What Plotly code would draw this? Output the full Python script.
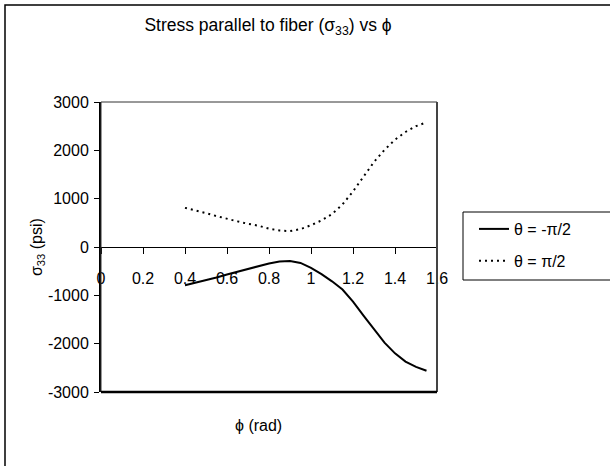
import plotly.graph_objects as go

phi = [0.40, 0.45, 0.50, 0.55, 0.60, 0.65, 0.70, 0.75, 0.80, 0.85, 0.90, 0.95,
       1.00, 1.05, 1.10, 1.15, 1.20, 1.25, 1.30, 1.35, 1.40, 1.45, 1.50, 1.55]
sigma_neg = [-790, -740, -690, -630, -570, -510, -450, -400, -340, -300, -290, -330,
             -430, -560, -710, -880, -1130, -1420, -1700, -1980, -2200, -2370, -2480, -2560]
sigma_pos = [810, 760, 700, 640, 580, 530, 480, 440, 380, 340, 330, 370,
             450, 550, 680, 880, 1150, 1450, 1760, 2010, 2220, 2380, 2500, 2580]
names = ["θ = -π/2", "θ = π/2"]
y_ticks = [-3000, -2000, -1000, 0, 1000, 2000, 3000]
y_ticklabels = ["-3000", "-2000", "-1000", "0", "1000", "2000", "3000"]
x_ticks = [0, 0.2, 0.4, 0.6, 0.8, 1.0, 1.2, 1.4, 1.6]
x_ticklabels = ["0", "0.2", "0.4", "0.6", "0.8", "1", "1.2", "1.4", "1.6"]

FONT = "Liberation Sans, Arial, sans-serif"
W, H = 610, 466
L, R, T, B = 101, 437, 102, 392

def px(x):
    return (x - L) / (R - L)

def py(y):
    return (B - y) / (B - T)

fig = go.Figure()
fig.add_trace(go.Scatter(x=phi, y=sigma_neg, mode="lines", name=names[0],
                         line=dict(color="black", width=2), legendgroup="a"))
fig.add_trace(go.Scatter(x=phi, y=sigma_pos, mode="lines", name=names[1],
                         line=dict(color="black", width=2, dash="2px,4px"), legendgroup="b"))

fig.update_layout(
    width=W, height=H,
    margin=dict(l=L, r=W - R, t=T, b=H - B),
    paper_bgcolor="white", plot_bgcolor="white",
    font=dict(family=FONT, size=16, color="black"),
    showlegend=True,
    legend=dict(x=px(474), y=py(212), xanchor="left", yanchor="top",
                bgcolor="rgba(0,0,0,0)", borderwidth=0,
                font=dict(size=16), tracegroupgap=8),
    title=dict(text="Stress parallel to fiber (σ<sub>33</sub>) vs ϕ",
               x=268 / W, y=1 - 25 / H, xref="container", yref="container",
               xanchor="center", yanchor="middle", font=dict(size=17.5)),
    xaxis=dict(range=[0, 1.6], tickvals=x_ticks, ticktext=x_ticklabels,
               showgrid=False, zeroline=False,
               showline=True, linecolor="black", linewidth=1,
               ticks="outside", ticklen=6, tickcolor="black",
               anchor="free", position=0.5, ticklabelstandoff=11),
    yaxis=dict(range=[-3000, 3000], tickvals=y_ticks, ticktext=y_ticklabels,
               showgrid=False, zeroline=False,
               showline=True, linecolor="black", linewidth=2,
               ticks="outside", ticklen=5, tickcolor="black", ticklabelstandoff=2),
    annotations=[
        dict(text="ϕ (rad)", xref="paper", yref="paper", x=px(258), y=py(425),
             showarrow=False, xanchor="center", yanchor="middle", font=dict(size=16)),
        dict(text="σ<sub>33</sub> (psi)", xref="paper", yref="paper", x=px(37), y=0.5,
             showarrow=False, textangle=-90, xanchor="center", yanchor="middle",
             font=dict(size=16)),
    ],
    shapes=[
        dict(type="rect", xref="paper", yref="paper", x0=px(5), x1=px(640),
             y0=py(500), y1=py(5), line=dict(color="black", width=1.5)),
        dict(type="rect", xref="paper", yref="paper", x0=0, x1=1, y0=0, y1=1,
             line=dict(color="#333333", width=1)),
        dict(type="line", xref="paper", yref="paper", x0=1, x1=1, y0=0, y1=1,
             line=dict(color="#444444", width=2)),
        dict(type="line", xref="paper", yref="paper", x0=0, x1=1, y0=0, y1=0,
             line=dict(color="black", width=2.5)),
        dict(type="rect", xref="paper", yref="paper", x0=px(463), x1=px(640),
             y0=py(280), y1=py(212), line=dict(color="black", width=1)),
    ],
)

fig.write_html("out.html")
